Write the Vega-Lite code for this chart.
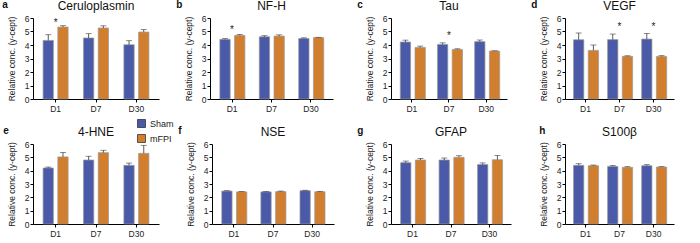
{
  "$schema": "https://vega.github.io/schema/vega-lite/v6.json",
  "padding": {"left": 2, "top": 0, "right": 2, "bottom": 2},
  "spacing": 13,
  "config": {
    "font": "Liberation Sans",
    "view": {"stroke": null},
    "title": {"fontSize": 12, "fontWeight": "normal", "offset": 1, "color": "#111"},
    "axisY": {"titleFontSize": 8.5, "titleFontWeight": "normal", "titleColor": "#222", "titlePadding": 8, "labelFontSize": 8.5, "labelColor": "#222", "labelPadding": 1, "labelOverlap": false, "labelFlush": false, "tickCount": 6, "tickSize": 3, "tickColor": "#000", "domainColor": "#000", "grid": false},
    "axisX": {"labelFontSize": 8.5, "labelColor": "#222", "labelAngle": 0, "labelPadding": 2, "tickSize": 3, "tickColor": "#000", "domainColor": "#000", "grid": false},
    "legend": {"orient": "none", "legendX": 104, "legendY": 101, "symbolType": "square", "symbolSize": 64, "labelFontSize": 9, "labelColor": "#222", "rowPadding": 4, "symbolStrokeColor": "#222", "symbolStrokeWidth": 0.7}
  },
  "datasets": {
    "bars": [
      {"marker": "Ceruloplasmin", "day": "D1", "group": "Sham", "mean": 4.34, "upper": 4.76},
      {"marker": "Ceruloplasmin", "day": "D1", "group": "mFPI", "mean": 5.33, "upper": 5.43},
      {"marker": "Ceruloplasmin", "day": "D7", "group": "Sham", "mean": 4.52, "upper": 4.84},
      {"marker": "Ceruloplasmin", "day": "D7", "group": "mFPI", "mean": 5.26, "upper": 5.42},
      {"marker": "Ceruloplasmin", "day": "D30", "group": "Sham", "mean": 4.02, "upper": 4.32},
      {"marker": "Ceruloplasmin", "day": "D30", "group": "mFPI", "mean": 4.96, "upper": 5.14},
      {"marker": "NF-H", "day": "D1", "group": "Sham", "mean": 4.42, "upper": 4.47},
      {"marker": "NF-H", "day": "D1", "group": "mFPI", "mean": 4.71, "upper": 4.78},
      {"marker": "NF-H", "day": "D7", "group": "Sham", "mean": 4.61, "upper": 4.69},
      {"marker": "NF-H", "day": "D7", "group": "mFPI", "mean": 4.66, "upper": 4.75},
      {"marker": "NF-H", "day": "D30", "group": "Sham", "mean": 4.48, "upper": 4.53},
      {"marker": "NF-H", "day": "D30", "group": "mFPI", "mean": 4.55, "upper": 4.57},
      {"marker": "Tau", "day": "D1", "group": "Sham", "mean": 4.22, "upper": 4.36},
      {"marker": "Tau", "day": "D1", "group": "mFPI", "mean": 3.82, "upper": 3.92},
      {"marker": "Tau", "day": "D7", "group": "Sham", "mean": 4.04, "upper": 4.16},
      {"marker": "Tau", "day": "D7", "group": "mFPI", "mean": 3.67, "upper": 3.72},
      {"marker": "Tau", "day": "D30", "group": "Sham", "mean": 4.25, "upper": 4.37},
      {"marker": "Tau", "day": "D30", "group": "mFPI", "mean": 3.55, "upper": 3.57},
      {"marker": "VEGF", "day": "D1", "group": "Sham", "mean": 4.39, "upper": 4.89},
      {"marker": "VEGF", "day": "D1", "group": "mFPI", "mean": 3.6, "upper": 4.0},
      {"marker": "VEGF", "day": "D7", "group": "Sham", "mean": 4.4, "upper": 4.81},
      {"marker": "VEGF", "day": "D7", "group": "mFPI", "mean": 3.16, "upper": 3.2},
      {"marker": "VEGF", "day": "D30", "group": "Sham", "mean": 4.44, "upper": 4.86},
      {"marker": "VEGF", "day": "D30", "group": "mFPI", "mean": 3.15, "upper": 3.21},
      {"marker": "4-HNE", "day": "D1", "group": "Sham", "mean": 4.2, "upper": 4.27},
      {"marker": "4-HNE", "day": "D1", "group": "mFPI", "mean": 5.03, "upper": 5.36},
      {"marker": "4-HNE", "day": "D7", "group": "Sham", "mean": 4.8, "upper": 5.08},
      {"marker": "4-HNE", "day": "D7", "group": "mFPI", "mean": 5.35, "upper": 5.53},
      {"marker": "4-HNE", "day": "D30", "group": "Sham", "mean": 4.4, "upper": 4.57},
      {"marker": "4-HNE", "day": "D30", "group": "mFPI", "mean": 5.3, "upper": 5.9},
      {"marker": "NSE", "day": "D1", "group": "Sham", "mean": 2.47, "upper": 2.5},
      {"marker": "NSE", "day": "D1", "group": "mFPI", "mean": 2.41, "upper": 2.43},
      {"marker": "NSE", "day": "D7", "group": "Sham", "mean": 2.41, "upper": 2.43},
      {"marker": "NSE", "day": "D7", "group": "mFPI", "mean": 2.43, "upper": 2.47},
      {"marker": "NSE", "day": "D30", "group": "Sham", "mean": 2.5, "upper": 2.53},
      {"marker": "NSE", "day": "D30", "group": "mFPI", "mean": 2.42, "upper": 2.45},
      {"marker": "GFAP", "day": "D1", "group": "Sham", "mean": 4.6, "upper": 4.72},
      {"marker": "GFAP", "day": "D1", "group": "mFPI", "mean": 4.8, "upper": 4.92},
      {"marker": "GFAP", "day": "D7", "group": "Sham", "mean": 4.8, "upper": 4.95},
      {"marker": "GFAP", "day": "D7", "group": "mFPI", "mean": 5.0, "upper": 5.12},
      {"marker": "GFAP", "day": "D30", "group": "Sham", "mean": 4.46, "upper": 4.58},
      {"marker": "GFAP", "day": "D30", "group": "mFPI", "mean": 4.82, "upper": 5.14},
      {"marker": "S100β", "day": "D1", "group": "Sham", "mean": 4.4, "upper": 4.52},
      {"marker": "S100β", "day": "D1", "group": "mFPI", "mean": 4.37, "upper": 4.42},
      {"marker": "S100β", "day": "D7", "group": "Sham", "mean": 4.32, "upper": 4.39},
      {"marker": "S100β", "day": "D7", "group": "mFPI", "mean": 4.25, "upper": 4.3},
      {"marker": "S100β", "day": "D30", "group": "Sham", "mean": 4.37, "upper": 4.45},
      {"marker": "S100β", "day": "D30", "group": "mFPI", "mean": 4.27, "upper": 4.3}
    ],
    "stars": [
      {"marker": "Ceruloplasmin", "day": "D1", "y": 5.65},
      {"marker": "NF-H", "day": "D1", "y": 5.1},
      {"marker": "Tau", "day": "D7", "y": 4.7},
      {"marker": "VEGF", "day": "D7", "y": 5.3},
      {"marker": "VEGF", "day": "D30", "y": 5.3}
    ]
  },
  "vconcat": [
    {
      "spacing": 24,
      "hconcat": [
        {
          "spacing": 17,
          "hconcat": [
            {
              "title": {"text": "a", "anchor": "start", "frame": "bounds", "fontSize": 10, "fontWeight": "bold", "offset": -10, "dx": -5},
              "vconcat": [{
                "width": 126, "height": 81, "title": "Ceruloplasmin",
                "layer": [
                  {"data": {"name": "bars"}, "transform": [{"filter": "datum.marker === 'Ceruloplasmin'"}], "mark": {"type": "bar", "stroke": "#9a9a9a", "strokeWidth": 0.7},
                   "encoding": {"x": {"field": "day", "type": "nominal", "sort": ["D1", "D7", "D30"], "scale": {"paddingInner": 0.38, "paddingOuter": 0.25}, "axis": {"title": null}}, "xOffset": {"field": "group", "sort": ["Sham", "mFPI"], "scale": {"paddingInner": 0.3}}, "y": {"field": "mean", "type": "quantitative", "scale": {"domain": [0, 6]}, "axis": {"title": "Relative conc. (y-cept)"}}, "color": {"field": "group", "type": "nominal", "scale": {"domain": ["Sham", "mFPI"], "range": ["#4A5AA8", "#D27E2F"]}, "legend": {"title": null}}}},
                  {"data": {"name": "bars"}, "transform": [{"filter": "datum.marker === 'Ceruloplasmin'"}], "mark": {"type": "rule", "color": "#333", "strokeWidth": 0.8},
                   "encoding": {"x": {"field": "day", "type": "nominal", "sort": ["D1", "D7", "D30"]}, "xOffset": {"field": "group", "sort": ["Sham", "mFPI"]}, "y": {"field": "mean", "type": "quantitative"}, "y2": {"field": "upper"}}},
                  {"data": {"name": "bars"}, "transform": [{"filter": "datum.marker === 'Ceruloplasmin'"}], "mark": {"type": "tick", "color": "#333", "thickness": 0.8, "size": 6},
                   "encoding": {"x": {"field": "day", "type": "nominal", "sort": ["D1", "D7", "D30"]}, "xOffset": {"field": "group", "sort": ["Sham", "mFPI"]}, "y": {"field": "upper", "type": "quantitative"}}},
                  {"data": {"name": "stars"}, "transform": [{"filter": "datum.marker === 'Ceruloplasmin'"}], "mark": {"type": "text", "text": "*", "fontSize": 10, "color": "#222"},
                   "encoding": {"x": {"field": "day", "type": "nominal", "sort": ["D1", "D7", "D30"]}, "y": {"field": "y", "type": "quantitative"}}}
                ]
              }]
            },
            {
              "title": {"text": "b", "anchor": "start", "frame": "bounds", "fontSize": 10, "fontWeight": "bold", "offset": -10, "dx": -8},
              "vconcat": [{
                "width": 123, "height": 81, "title": "NF-H",
                "layer": [
                  {"data": {"name": "bars"}, "transform": [{"filter": "datum.marker === 'NF-H'"}], "mark": {"type": "bar", "stroke": "#9a9a9a", "strokeWidth": 0.7},
                   "encoding": {"x": {"field": "day", "type": "nominal", "sort": ["D1", "D7", "D30"], "scale": {"paddingInner": 0.38, "paddingOuter": 0.25}, "axis": {"title": null}}, "xOffset": {"field": "group", "sort": ["Sham", "mFPI"], "scale": {"paddingInner": 0.3}}, "y": {"field": "mean", "type": "quantitative", "scale": {"domain": [0, 6]}, "axis": {"title": "Relative conc. (y-cept)"}}, "color": {"field": "group", "type": "nominal", "scale": {"domain": ["Sham", "mFPI"], "range": ["#4A5AA8", "#D27E2F"]}, "legend": {"title": null}}}},
                  {"data": {"name": "bars"}, "transform": [{"filter": "datum.marker === 'NF-H'"}], "mark": {"type": "rule", "color": "#333", "strokeWidth": 0.8},
                   "encoding": {"x": {"field": "day", "type": "nominal", "sort": ["D1", "D7", "D30"]}, "xOffset": {"field": "group", "sort": ["Sham", "mFPI"]}, "y": {"field": "mean", "type": "quantitative"}, "y2": {"field": "upper"}}},
                  {"data": {"name": "bars"}, "transform": [{"filter": "datum.marker === 'NF-H'"}], "mark": {"type": "tick", "color": "#333", "thickness": 0.8, "size": 6},
                   "encoding": {"x": {"field": "day", "type": "nominal", "sort": ["D1", "D7", "D30"]}, "xOffset": {"field": "group", "sort": ["Sham", "mFPI"]}, "y": {"field": "upper", "type": "quantitative"}}},
                  {"data": {"name": "stars"}, "transform": [{"filter": "datum.marker === 'NF-H'"}], "mark": {"type": "text", "text": "*", "fontSize": 10, "color": "#222"},
                   "encoding": {"x": {"field": "day", "type": "nominal", "sort": ["D1", "D7", "D30"]}, "y": {"field": "y", "type": "quantitative"}}}
                ]
              }]
            }
          ]
        },
        {
          "spacing": 24,
          "hconcat": [
            {
              "title": {"text": "c", "anchor": "start", "frame": "bounds", "fontSize": 10, "fontWeight": "bold", "offset": -10, "dx": -8},
              "vconcat": [{
                "width": 116, "height": 81, "title": "Tau",
                "layer": [
                  {"data": {"name": "bars"}, "transform": [{"filter": "datum.marker === 'Tau'"}], "mark": {"type": "bar", "stroke": "#9a9a9a", "strokeWidth": 0.7},
                   "encoding": {"x": {"field": "day", "type": "nominal", "sort": ["D1", "D7", "D30"], "scale": {"paddingInner": 0.38, "paddingOuter": 0.25}, "axis": {"title": null}}, "xOffset": {"field": "group", "sort": ["Sham", "mFPI"], "scale": {"paddingInner": 0.3}}, "y": {"field": "mean", "type": "quantitative", "scale": {"domain": [0, 6]}, "axis": {"title": "Relative conc. (y-cept)"}}, "color": {"field": "group", "type": "nominal", "scale": {"domain": ["Sham", "mFPI"], "range": ["#4A5AA8", "#D27E2F"]}, "legend": {"title": null}}}},
                  {"data": {"name": "bars"}, "transform": [{"filter": "datum.marker === 'Tau'"}], "mark": {"type": "rule", "color": "#333", "strokeWidth": 0.8},
                   "encoding": {"x": {"field": "day", "type": "nominal", "sort": ["D1", "D7", "D30"]}, "xOffset": {"field": "group", "sort": ["Sham", "mFPI"]}, "y": {"field": "mean", "type": "quantitative"}, "y2": {"field": "upper"}}},
                  {"data": {"name": "bars"}, "transform": [{"filter": "datum.marker === 'Tau'"}], "mark": {"type": "tick", "color": "#333", "thickness": 0.8, "size": 6},
                   "encoding": {"x": {"field": "day", "type": "nominal", "sort": ["D1", "D7", "D30"]}, "xOffset": {"field": "group", "sort": ["Sham", "mFPI"]}, "y": {"field": "upper", "type": "quantitative"}}},
                  {"data": {"name": "stars"}, "transform": [{"filter": "datum.marker === 'Tau'"}], "mark": {"type": "text", "text": "*", "fontSize": 10, "color": "#222"},
                   "encoding": {"x": {"field": "day", "type": "nominal", "sort": ["D1", "D7", "D30"]}, "y": {"field": "y", "type": "quantitative"}}}
                ]
              }]
            },
            {
              "title": {"text": "d", "anchor": "start", "frame": "bounds", "fontSize": 10, "fontWeight": "bold", "offset": -10, "dx": -8},
              "vconcat": [{
                "width": 109, "height": 81, "title": "VEGF",
                "layer": [
                  {"data": {"name": "bars"}, "transform": [{"filter": "datum.marker === 'VEGF'"}], "mark": {"type": "bar", "stroke": "#9a9a9a", "strokeWidth": 0.7},
                   "encoding": {"x": {"field": "day", "type": "nominal", "sort": ["D1", "D7", "D30"], "scale": {"paddingInner": 0.3, "paddingOuter": 0.25}, "axis": {"title": null}}, "xOffset": {"field": "group", "sort": ["Sham", "mFPI"], "scale": {"paddingInner": 0.3}}, "y": {"field": "mean", "type": "quantitative", "scale": {"domain": [0, 6]}, "axis": {"title": "Relative conc. (y-cept)"}}, "color": {"field": "group", "type": "nominal", "scale": {"domain": ["Sham", "mFPI"], "range": ["#4A5AA8", "#D27E2F"]}, "legend": {"title": null}}}},
                  {"data": {"name": "bars"}, "transform": [{"filter": "datum.marker === 'VEGF'"}], "mark": {"type": "rule", "color": "#333", "strokeWidth": 0.8},
                   "encoding": {"x": {"field": "day", "type": "nominal", "sort": ["D1", "D7", "D30"]}, "xOffset": {"field": "group", "sort": ["Sham", "mFPI"]}, "y": {"field": "mean", "type": "quantitative"}, "y2": {"field": "upper"}}},
                  {"data": {"name": "bars"}, "transform": [{"filter": "datum.marker === 'VEGF'"}], "mark": {"type": "tick", "color": "#333", "thickness": 0.8, "size": 6},
                   "encoding": {"x": {"field": "day", "type": "nominal", "sort": ["D1", "D7", "D30"]}, "xOffset": {"field": "group", "sort": ["Sham", "mFPI"]}, "y": {"field": "upper", "type": "quantitative"}}},
                  {"data": {"name": "stars"}, "transform": [{"filter": "datum.marker === 'VEGF'"}], "mark": {"type": "text", "text": "*", "fontSize": 10, "color": "#222"},
                   "encoding": {"x": {"field": "day", "type": "nominal", "sort": ["D1", "D7", "D30"]}, "y": {"field": "y", "type": "quantitative"}}}
                ]
              }]
            }
          ]
        }
      ]
    },
    {
      "spacing": 23,
      "hconcat": [
        {
          "spacing": 19,
          "hconcat": [
            {
              "title": {"text": "e", "anchor": "start", "frame": "bounds", "fontSize": 10, "fontWeight": "bold", "offset": -10, "dx": -4},
              "vconcat": [{
                "width": 126, "height": 80, "title": "4-HNE",
                "layer": [
                  {"data": {"name": "bars"}, "transform": [{"filter": "datum.marker === '4-HNE'"}], "mark": {"type": "bar", "stroke": "#9a9a9a", "strokeWidth": 0.7},
                   "encoding": {"x": {"field": "day", "type": "nominal", "sort": ["D1", "D7", "D30"], "scale": {"paddingInner": 0.38, "paddingOuter": 0.25}, "axis": {"title": null}}, "xOffset": {"field": "group", "sort": ["Sham", "mFPI"], "scale": {"paddingInner": 0.3}}, "y": {"field": "mean", "type": "quantitative", "scale": {"domain": [0, 6]}, "axis": {"title": "Relative conc. (y-cept)"}}, "color": {"field": "group", "type": "nominal", "scale": {"domain": ["Sham", "mFPI"], "range": ["#4A5AA8", "#D27E2F"]}, "legend": {"title": null}}}},
                  {"data": {"name": "bars"}, "transform": [{"filter": "datum.marker === '4-HNE'"}], "mark": {"type": "rule", "color": "#333", "strokeWidth": 0.8},
                   "encoding": {"x": {"field": "day", "type": "nominal", "sort": ["D1", "D7", "D30"]}, "xOffset": {"field": "group", "sort": ["Sham", "mFPI"]}, "y": {"field": "mean", "type": "quantitative"}, "y2": {"field": "upper"}}},
                  {"data": {"name": "bars"}, "transform": [{"filter": "datum.marker === '4-HNE'"}], "mark": {"type": "tick", "color": "#333", "thickness": 0.8, "size": 6},
                   "encoding": {"x": {"field": "day", "type": "nominal", "sort": ["D1", "D7", "D30"]}, "xOffset": {"field": "group", "sort": ["Sham", "mFPI"]}, "y": {"field": "upper", "type": "quantitative"}}}
                ]
              }]
            },
            {
              "title": {"text": "f", "anchor": "start", "frame": "bounds", "fontSize": 10, "fontWeight": "bold", "offset": -10, "dx": -8},
              "vconcat": [{
                "width": 122, "height": 80, "title": "NSE",
                "layer": [
                  {"data": {"name": "bars"}, "transform": [{"filter": "datum.marker === 'NSE'"}], "mark": {"type": "bar", "stroke": "#9a9a9a", "strokeWidth": 0.7},
                   "encoding": {"x": {"field": "day", "type": "nominal", "sort": ["D1", "D7", "D30"], "scale": {"paddingInner": 0.38, "paddingOuter": 0.25}, "axis": {"title": null}}, "xOffset": {"field": "group", "sort": ["Sham", "mFPI"], "scale": {"paddingInner": 0.3}}, "y": {"field": "mean", "type": "quantitative", "scale": {"domain": [0, 6]}, "axis": {"title": "Relative conc. (y-cept)"}}, "color": {"field": "group", "type": "nominal", "scale": {"domain": ["Sham", "mFPI"], "range": ["#4A5AA8", "#D27E2F"]}, "legend": {"title": null}}}},
                  {"data": {"name": "bars"}, "transform": [{"filter": "datum.marker === 'NSE'"}], "mark": {"type": "rule", "color": "#333", "strokeWidth": 0.8},
                   "encoding": {"x": {"field": "day", "type": "nominal", "sort": ["D1", "D7", "D30"]}, "xOffset": {"field": "group", "sort": ["Sham", "mFPI"]}, "y": {"field": "mean", "type": "quantitative"}, "y2": {"field": "upper"}}},
                  {"data": {"name": "bars"}, "transform": [{"filter": "datum.marker === 'NSE'"}], "mark": {"type": "tick", "color": "#333", "thickness": 0.8, "size": 6},
                   "encoding": {"x": {"field": "day", "type": "nominal", "sort": ["D1", "D7", "D30"]}, "xOffset": {"field": "group", "sort": ["Sham", "mFPI"]}, "y": {"field": "upper", "type": "quantitative"}}}
                ]
              }]
            }
          ]
        },
        {
          "spacing": 28,
          "hconcat": [
            {
              "title": {"text": "g", "anchor": "start", "frame": "bounds", "fontSize": 10, "fontWeight": "bold", "offset": -10, "dx": -8},
              "vconcat": [{
                "width": 120, "height": 80, "title": "GFAP",
                "layer": [
                  {"data": {"name": "bars"}, "transform": [{"filter": "datum.marker === 'GFAP'"}], "mark": {"type": "bar", "stroke": "#9a9a9a", "strokeWidth": 0.7},
                   "encoding": {"x": {"field": "day", "type": "nominal", "sort": ["D1", "D7", "D30"], "scale": {"paddingInner": 0.38, "paddingOuter": 0.25}, "axis": {"title": null}}, "xOffset": {"field": "group", "sort": ["Sham", "mFPI"], "scale": {"paddingInner": 0.3}}, "y": {"field": "mean", "type": "quantitative", "scale": {"domain": [0, 6]}, "axis": {"title": "Relative conc. (y-cept)"}}, "color": {"field": "group", "type": "nominal", "scale": {"domain": ["Sham", "mFPI"], "range": ["#4A5AA8", "#D27E2F"]}, "legend": {"title": null}}}},
                  {"data": {"name": "bars"}, "transform": [{"filter": "datum.marker === 'GFAP'"}], "mark": {"type": "rule", "color": "#333", "strokeWidth": 0.8},
                   "encoding": {"x": {"field": "day", "type": "nominal", "sort": ["D1", "D7", "D30"]}, "xOffset": {"field": "group", "sort": ["Sham", "mFPI"]}, "y": {"field": "mean", "type": "quantitative"}, "y2": {"field": "upper"}}},
                  {"data": {"name": "bars"}, "transform": [{"filter": "datum.marker === 'GFAP'"}], "mark": {"type": "tick", "color": "#333", "thickness": 0.8, "size": 6},
                   "encoding": {"x": {"field": "day", "type": "nominal", "sort": ["D1", "D7", "D30"]}, "xOffset": {"field": "group", "sort": ["Sham", "mFPI"]}, "y": {"field": "upper", "type": "quantitative"}}}
                ]
              }]
            },
            {
              "title": {"text": "h", "anchor": "start", "frame": "bounds", "fontSize": 10, "fontWeight": "bold", "offset": -10, "dx": 0},
              "vconcat": [{
                "width": 109, "height": 80, "title": "S100β",
                "layer": [
                  {"data": {"name": "bars"}, "transform": [{"filter": "datum.marker === 'S100β'"}], "mark": {"type": "bar", "stroke": "#9a9a9a", "strokeWidth": 0.7},
                   "encoding": {"x": {"field": "day", "type": "nominal", "sort": ["D1", "D7", "D30"], "scale": {"paddingInner": 0.3, "paddingOuter": 0.25}, "axis": {"title": null}}, "xOffset": {"field": "group", "sort": ["Sham", "mFPI"], "scale": {"paddingInner": 0.3}}, "y": {"field": "mean", "type": "quantitative", "scale": {"domain": [0, 6]}, "axis": {"title": "Relative conc. (y-cept)"}}, "color": {"field": "group", "type": "nominal", "scale": {"domain": ["Sham", "mFPI"], "range": ["#4A5AA8", "#D27E2F"]}, "legend": {"title": null}}}},
                  {"data": {"name": "bars"}, "transform": [{"filter": "datum.marker === 'S100β'"}], "mark": {"type": "rule", "color": "#333", "strokeWidth": 0.8},
                   "encoding": {"x": {"field": "day", "type": "nominal", "sort": ["D1", "D7", "D30"]}, "xOffset": {"field": "group", "sort": ["Sham", "mFPI"]}, "y": {"field": "mean", "type": "quantitative"}, "y2": {"field": "upper"}}},
                  {"data": {"name": "bars"}, "transform": [{"filter": "datum.marker === 'S100β'"}], "mark": {"type": "tick", "color": "#333", "thickness": 0.8, "size": 6},
                   "encoding": {"x": {"field": "day", "type": "nominal", "sort": ["D1", "D7", "D30"]}, "xOffset": {"field": "group", "sort": ["Sham", "mFPI"]}, "y": {"field": "upper", "type": "quantitative"}}}
                ]
              }]
            }
          ]
        }
      ]
    }
  ]
}
